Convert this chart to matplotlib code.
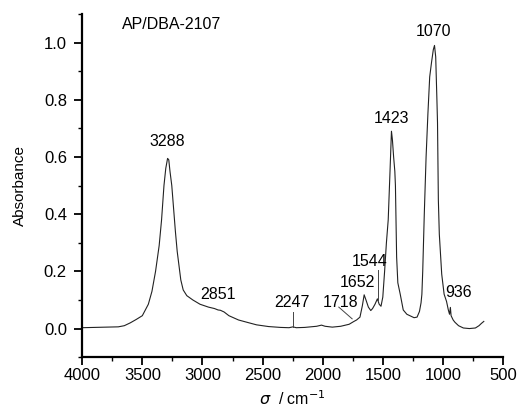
import matplotlib
matplotlib.use("Agg")
import matplotlib.pyplot as plt
import numpy as np
from matplotlib.ticker import MultipleLocator

plt.rcParams['font.family'] = ['Liberation Sans', 'DejaVu Sans']

# spectrum (wavenumber / cm-1, absorbance)
wavenumber = [4000, 3900, 3800, 3700, 3650, 3600, 3550, 3500, 3450, 3420,
              3390, 3360, 3340, 3320, 3305, 3290, 3280, 3270, 3255, 3240,
              3225, 3210, 3195, 3180, 3160, 3130, 3080, 3020, 2950, 2900,
              2870, 2851, 2820, 2780, 2700, 2630, 2550, 2450, 2350, 2280,
              2247, 2220, 2150, 2050, 2010, 1980, 1920, 1850, 1780, 1740,
              1718, 1690, 1670, 1655, 1640, 1620, 1600, 1585, 1565, 1545,
              1530, 1515, 1500, 1485, 1470, 1455, 1440, 1428, 1420, 1410,
              1400, 1395, 1385, 1375, 1355, 1330, 1300, 1270, 1240, 1215,
              1195, 1182, 1175, 1168, 1155, 1140, 1125, 1110, 1095, 1080,
              1070, 1060, 1050, 1045, 1038, 1030, 1010, 990, 970, 955,
              945, 938, 932, 915, 900, 870, 830, 780, 730, 700,
              680, 660]
absorbance = [0.003, 0.004, 0.005, 0.006, 0.010, 0.020, 0.032, 0.045, 0.085, 0.13,
              0.20, 0.29, 0.38, 0.50, 0.56, 0.595, 0.59, 0.55, 0.50, 0.42,
              0.34, 0.27, 0.22, 0.17, 0.135, 0.115, 0.10, 0.085, 0.075, 0.070,
              0.065, 0.064, 0.058, 0.045, 0.030, 0.022, 0.013, 0.007, 0.004, 0.003,
              0.006, 0.003, 0.004, 0.008, 0.012, 0.008, 0.005, 0.008, 0.015, 0.025,
              0.030, 0.040, 0.080, 0.118, 0.100, 0.075, 0.063, 0.070, 0.085, 0.104,
              0.085, 0.078, 0.11, 0.20, 0.30, 0.38, 0.55, 0.69, 0.66, 0.60,
              0.55, 0.50, 0.25, 0.16, 0.12, 0.065, 0.050, 0.044, 0.038, 0.040,
              0.060, 0.090, 0.12, 0.20, 0.40, 0.60, 0.75, 0.88, 0.93, 0.975,
              0.99, 0.95, 0.80, 0.72, 0.45, 0.33, 0.19, 0.12, 0.095, 0.065,
              0.050, 0.074, 0.045, 0.030, 0.022, 0.010, 0.002, 0.000, 0.002, 0.010,
              0.018, 0.025]

peak_labels = ["3288", "2851", "2247", "1718", "1652", "1544", "1423", "1070", "936"]
label_x = [3296, 2867, 2257, 1850, 1711, 1612, 1429, 1077, 872]
label_y = [0.654, 0.12, 0.092, 0.092, 0.162, 0.233, 0.736, 1.037, 0.127]

fig = plt.figure(figsize=(5.17, 4.11), dpi=100)
ax = fig.add_axes([0.159, 0.131, 0.814, 0.835])

ax.plot(wavenumber, absorbance, color='#222222', lw=0.8)

for lab, lx, ly in zip(peak_labels, label_x, label_y):
    ax.text(lx, ly, lab, ha='center', va='center', fontsize=11.5)

# leader lines
ax.plot([2247, 2247], [0.058, 0.007], color='#444444', lw=0.7)
ax.plot([1866, 1755], [0.075, 0.034], color='#444444', lw=0.7)
ax.plot([1542, 1542], [0.205, 0.095], color='#444444', lw=0.7)

ax.text(3254, 1.063, "AP/DBA-2107", ha='center', va='center', fontsize=11.5)

ax.set_xlim(4000, 500)
ax.set_ylim(-0.1, 1.1)
ax.xaxis.set_major_locator(MultipleLocator(500))
ax.xaxis.set_minor_locator(MultipleLocator(250))
ax.yaxis.set_major_locator(MultipleLocator(0.2))
ax.yaxis.set_minor_locator(MultipleLocator(0.1))
ax.set_yticks(np.arange(0.0, 1.01, 0.2))

for s in ['top', 'right']:
    ax.spines[s].set_visible(False)
for s in ['left', 'bottom']:
    ax.spines[s].set_linewidth(1.6)

ax.tick_params(which='major', direction='out', length=6, width=1.3, labelsize=12)
ax.tick_params(which='minor', direction='out', length=3, width=1.0)
ax.tick_params(axis='x', pad=2)
ax.tick_params(axis='y', pad=5)

ax.set_ylabel("Absorbance", fontsize=11, labelpad=12)
ax.set_xlabel(r"$\sigma$  / cm$^{-1}$", fontsize=11.5, labelpad=4)

plt.savefig("out.png", dpi=100)
